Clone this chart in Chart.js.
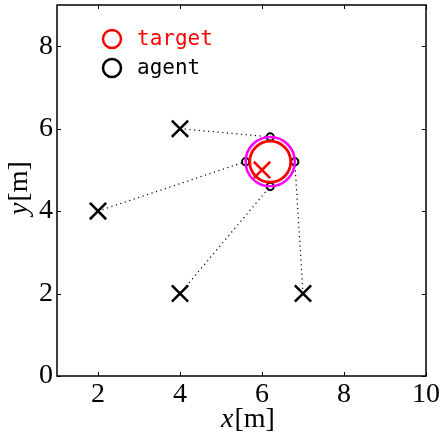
<!DOCTYPE html>
<html>
<head>
<meta charset="utf-8">
<script src="https://cdn.jsdelivr.net/npm/chart.js@4.4.1/dist/chart.umd.min.js"></script>
<style>
  html, body { margin: 0; padding: 0; background: #fff; }
  #wrap { width: 439px; height: 434px; }
</style>
</head>
<body>
<div id="wrap"><canvas id="c" width="439" height="434"></canvas></div>
<script>
// Agent starting positions (crosses)
const startX = [4, 2, 4, 7];
const startY = [6, 4, 2, 2];
// Agent positions on the capture ring (small circles)
const agentX = [6.2, 5.6, 6.2, 6.8];
const agentY = [5.8, 5.2, 4.6, 5.2];
// Target estimate (red cross) and target body
const targetX = [6];
const targetY = [5];
const ringCenter = [6.2, 5.2];
const targetRadius = 0.5;
const captureRadius = 0.6;
// Axis ticks
const xTicks = [2, 4, 6, 8, 10];
const yTicks = [0, 2, 4, 6, 8];
const xRange = [1, 10];
const yRange = [0, 9];

const datasets = [];
// Dotted paths from each start point to its place on the ring
for (let i = 0; i < startX.length; i++) {
  datasets.push({
    type: 'line',
    data: [{x: startX[i], y: startY[i]}, {x: agentX[i], y: agentY[i]}],
    borderColor: '#000',
    borderWidth: 1.2,
    borderDash: [1.2, 3.5],
    pointRadius: 0,
    fill: false
  });
}
datasets.push({
  type: 'scatter',
  data: startX.map((x, i) => ({x, y: startY[i]})),
  pointStyle: 'crossRot',
  pointRadius: 11.5,
  borderColor: '#000',
  borderWidth: 2.5
});
datasets.push({
  type: 'scatter',
  data: agentX.map((x, i) => ({x, y: agentY[i]})),
  pointStyle: 'circle',
  pointRadius: 3.6,
  backgroundColor: 'rgba(0,0,0,0)',
  borderColor: '#000',
  borderWidth: 2
});
datasets.push({
  type: 'scatter',
  data: targetX.map((x, i) => ({x, y: targetY[i]})),
  pointStyle: 'crossRot',
  pointRadius: 11.5,
  borderColor: '#f00',
  borderWidth: 2.5
});

const serif = '"Liberation Serif", "Times New Roman", serif';
const labelSize = 28;

const decorations = {
  id: 'decorations',
  afterDatasetsDraw(chart) {
    const {ctx, chartArea: a, scales: {x, y}} = chart;
    ctx.save();
    // Target body and capture ring
    const cx = x.getPixelForValue(ringCenter[0]);
    const cy = y.getPixelForValue(ringCenter[1]);
    const rings = [[captureRadius, '#ff00ff', 2.5], [targetRadius, '#ff0000', 2.8]];
    for (const [r, col, lw] of rings) {
      const rp = x.getPixelForValue(ringCenter[0] + r) - cx;
      ctx.beginPath();
      ctx.arc(cx, cy, rp, 0, Math.PI * 2);
      ctx.strokeStyle = col;
      ctx.lineWidth = lw;
      ctx.stroke();
    }
    // Frame
    ctx.strokeStyle = '#000';
    ctx.lineWidth = 1.5;
    ctx.strokeRect(a.left, a.top, a.right - a.left, a.bottom - a.top);
    // Inward ticks on all four sides
    ctx.lineWidth = 1;
    const tl = 4;
    for (const v of xTicks) {
      const px = Math.round(x.getPixelForValue(v)) + 0.5;
      ctx.beginPath();
      ctx.moveTo(px, a.bottom); ctx.lineTo(px, a.bottom - tl);
      ctx.moveTo(px, a.top); ctx.lineTo(px, a.top + tl);
      ctx.stroke();
    }
    for (const v of yTicks) {
      const py = Math.round(y.getPixelForValue(v)) + 0.5;
      ctx.beginPath();
      ctx.moveTo(a.left, py); ctx.lineTo(a.left + tl, py);
      ctx.moveTo(a.right, py); ctx.lineTo(a.right - tl, py);
      ctx.stroke();
    }
    // Legend
    const legend = [['target', '#ff0000', 39], ['agent', '#000000', 68]];
    ctx.font = '21px "DejaVu Sans Mono", monospace';
    ctx.textBaseline = 'middle';
    ctx.textAlign = 'left';
    for (const [label, col, ly] of legend) {
      ctx.beginPath();
      ctx.arc(112, ly, 9, 0, Math.PI * 2);
      ctx.strokeStyle = col;
      ctx.lineWidth = 2.5;
      ctx.stroke();
      ctx.fillStyle = col;
      ctx.fillText(label, 137, ly + 1);
    }
    // Axis titles: italic variable, upright unit
    ctx.fillStyle = '#000';
    ctx.textBaseline = 'alphabetic';
    const drawTitle = (v, unit, tx, ty, rot) => {
      ctx.save();
      ctx.translate(tx, ty);
      ctx.rotate(rot);
      ctx.font = `italic ${labelSize}px ` + serif;
      const w1 = ctx.measureText(v).width;
      ctx.font = `${labelSize}px ` + serif;
      const w2 = ctx.measureText(unit).width;
      const start = -(w1 + w2) / 2;
      ctx.font = `italic ${labelSize}px ` + serif;
      ctx.fillText(v, start, 0);
      ctx.font = `${labelSize}px ` + serif;
      ctx.fillText(unit, start + w1 + 1, 0);
      ctx.restore();
    };
    drawTitle('x', '[m]', (a.left + a.right) / 2 + 6, 427, 0);
    drawTitle('y', '[m]', 27, (a.top + a.bottom) / 2 - 2, -Math.PI / 2);
    ctx.restore();
  }
};

new Chart(document.getElementById('c'), {
  data: { datasets },
  options: {
    responsive: false,
    animation: false,
    events: [],
    layout: { autoPadding: false, padding: { top: 5, right: 13, left: 0, bottom: 0 } },
    plugins: { legend: { display: false }, tooltip: { enabled: false } },
    scales: {
      x: {
        type: 'linear',
        min: xRange[0], max: xRange[1],
        afterBuildTicks(s) { s.ticks = xTicks.map(v => ({value: v})); },
        afterFit(s) { s.height = 58; s.paddingLeft = 0; s.paddingRight = 0; },
        grid: { display: false, drawTicks: false },
        border: { display: false },
        ticks: { color: '#000', font: { family: serif, size: labelSize, lineHeight: 1 }, padding: 5, maxRotation: 0, autoSkip: false }
      },
      y: {
        type: 'linear',
        min: yRange[0], max: yRange[1],
        afterBuildTicks(s) { s.ticks = yTicks.map(v => ({value: v})); },
        afterFit(s) { s.width = 57; s.paddingTop = 0; s.paddingBottom = 0; },
        grid: { display: false, drawTicks: false },
        border: { display: false },
        ticks: { color: '#000', font: { family: serif, size: labelSize }, padding: 4, autoSkip: false }
      }
    }
  },
  plugins: [decorations]
});
</script>
</body>
</html>
